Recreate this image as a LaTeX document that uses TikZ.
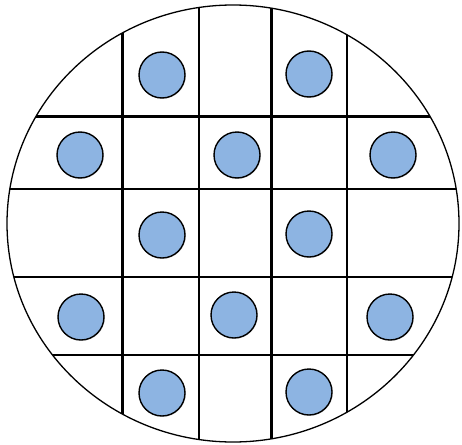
\documentclass[tikz,border=0pt]{standalone}
\usetikzlibrary{shadows}
\definecolor{dotblue}{RGB}{141,180,226}
\tikzset{
  gridline/.style={line width=2.3pt, black},
  rim/.style={line width=1.3pt, black},
  dot/.style={circle, draw=black, line width=1.4pt, fill=dotblue, minimum size=46pt, inner sep=0pt,
    drop shadow={shadow xshift=0.8pt, shadow yshift=-0.8pt, opacity=0.25}}
}
\begin{document}
\begin{tikzpicture}[x=1pt,y=-1pt]
\useasboundingbox (0,0) rectangle (462,444);
\fill[white] (0,0) rectangle (462,444);
\begin{scope}
  \clip (233,223.5) ellipse [x radius=226, y radius=218.5];
  \foreach \x in {122.5,199,271.5,347}
    \draw[gridline] (\x,0) -- (\x,444);
  \foreach \y in {116.5,189,277,355}
    \draw[gridline] (0,\y) -- (462,\y);
\end{scope}
\draw[rim] (233,223.5) ellipse [x radius=226, y radius=218.5];
\node[dot] (d1) at (162,75) {};
\node[dot] (d2) at (309,74) {};
\node[dot] (d3) at (80,155) {};
\node[dot] (d4) at (237,155) {};
\node[dot] (d5) at (393,155) {};
\node[dot] (d6) at (162,235) {};
\node[dot] (d7) at (309,234) {};
\node[dot] (d8) at (81,317) {};
\node[dot] (d9) at (234,315) {};
\node[dot] (d10) at (390,317) {};
\node[dot] (d11) at (162,393) {};
\node[dot] (d12) at (309,392) {};
\end{tikzpicture}
\end{document}
